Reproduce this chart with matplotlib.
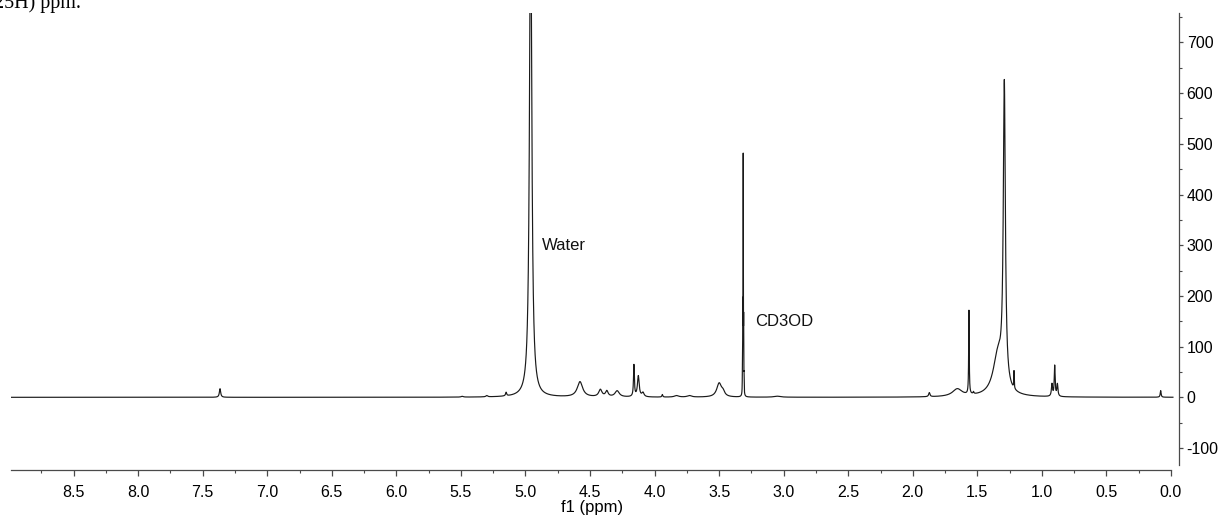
import numpy as np
import matplotlib
matplotlib.use("Agg")
import matplotlib.pyplot as plt
from matplotlib.ticker import FixedLocator, MultipleLocator, FormatStrFormatter

plt.rcParams["font.family"] = ["Liberation Sans", "DejaVu Sans"]
plt.rcParams["axes.unicode_minus"] = False

# 1H NMR peak list: shift (ppm), height (intensity), half-width (ppm)
peak_ppm = [7.366, 5.49, 5.30, 5.15, 4.960,
            4.578, 4.42, 4.37, 4.29, 4.160, 4.126, 4.09,
            3.94, 3.83, 3.73, 3.50, 3.47,
            3.3200, 3.3168, 3.3135, 3.3102, 3.3070, 3.05,
            1.872, 1.655, 1.565, 1.53, 1.34, 1.291, 1.216,
            0.922, 0.901, 0.880, 0.080]
peak_height = [17, 1.5, 2.5, 7, 1000,
               30, 14, 11, 12, 62, 41, 8,
               5, 3, 3, 27, 8,
               30, 152, 457, 122, 28, 2,
               8, 15, 165, 4, 80, 590, 34,
               24, 60, 24, 13]
peak_hwhm = [0.006, 0.010, 0.008, 0.005, 0.0105,
             0.025, 0.015, 0.012, 0.020, 0.004, 0.008, 0.010,
             0.004, 0.020, 0.020, 0.022, 0.015,
             0.001, 0.001, 0.001, 0.001, 0.001, 0.030,
             0.006, 0.045, 0.0025, 0.004, 0.045, 0.0095, 0.002,
             0.005, 0.004, 0.005, 0.004]

# Solvent / residual signal annotations (label, ppm, intensity)
annot_text = ["Water", "CD3OD"]
annot_ppm = [4.872, 3.222]
annot_val = [290, 140]

# Axis ranges and ticks
x_start, x_end = 8.985, -0.015
x_lim = (8.985, -0.062)
y_lim = (-133.5, 758)
x_major = np.arange(0.0, 8.51, 0.5)
y_major = np.arange(-100, 701, 100)

# Lorentzian line shapes summed on a fine chemical-shift grid
ppm = np.linspace(x_start, x_end, 120000)
intensity = np.zeros_like(ppm)
for c, h, w in zip(peak_ppm, peak_height, peak_hwhm):
    intensity += h / (1.0 + ((ppm - c) / w) ** 2)

W, H = 1222, 516
fig = plt.figure(figsize=(W / 100, H / 100), dpi=100)
ax = fig.add_axes([11 / W, 1 - 465 / H, 1168 / W, 452 / H])

ax.plot(ppm, intensity, color="#1a1a1a", lw=0.85)

ax.set_xlim(*x_lim)
ax.set_ylim(*y_lim)

for s in ("top", "left"):
    ax.spines[s].set_visible(False)
axis_col = "#4a4a4a"
for s in ("bottom", "right"):
    ax.spines[s].set_color(axis_col)
    ax.spines[s].set_linewidth(0.9)
ax.spines["bottom"].set_position(("outward", 3.6))
ax.spines["bottom"].set_bounds(x_start, 0.0)

ax.yaxis.tick_right()
ax.xaxis.set_major_locator(FixedLocator(x_major))
ax.xaxis.set_major_formatter(FormatStrFormatter("%.1f"))
ax.xaxis.set_minor_locator(FixedLocator(np.arange(0.25, 8.8, 0.5)))
ax.yaxis.set_major_locator(FixedLocator(y_major))
ax.yaxis.set_minor_locator(MultipleLocator(50))

ax.tick_params(axis="x", which="major", direction="out", length=4, width=0.9,
               color=axis_col, pad=7, labelsize=11.5)
ax.tick_params(axis="x", which="minor", direction="out", length=2.5, width=0.8,
               color=axis_col)
ax.tick_params(axis="y", which="major", direction="out", length=3, width=0.9,
               color=axis_col, pad=2.5, labelsize=11.5)
ax.tick_params(axis="y", which="minor", direction="out", length=2, width=0.8,
               color=axis_col)

ax.set_xlabel("f1 (ppm)", fontsize=12)
ax.xaxis.set_label_coords((592 - 11) / 1168, (465 - 500) / 452)

for t, x, v in zip(annot_text, annot_ppm, annot_val):
    ax.text(x, v, t, fontsize=12, ha="left", va="baseline", color="#111111")

# Tail of the preceding paragraph above the spectrum
fig.text(-6 / W, 1 - 8 / H, "25H) ppm.", family=["Liberation Serif", "DejaVu Serif"],
         fontsize=14.5, ha="left", va="baseline", color="black")

fig.savefig("out.png", dpi=100, facecolor="white")
